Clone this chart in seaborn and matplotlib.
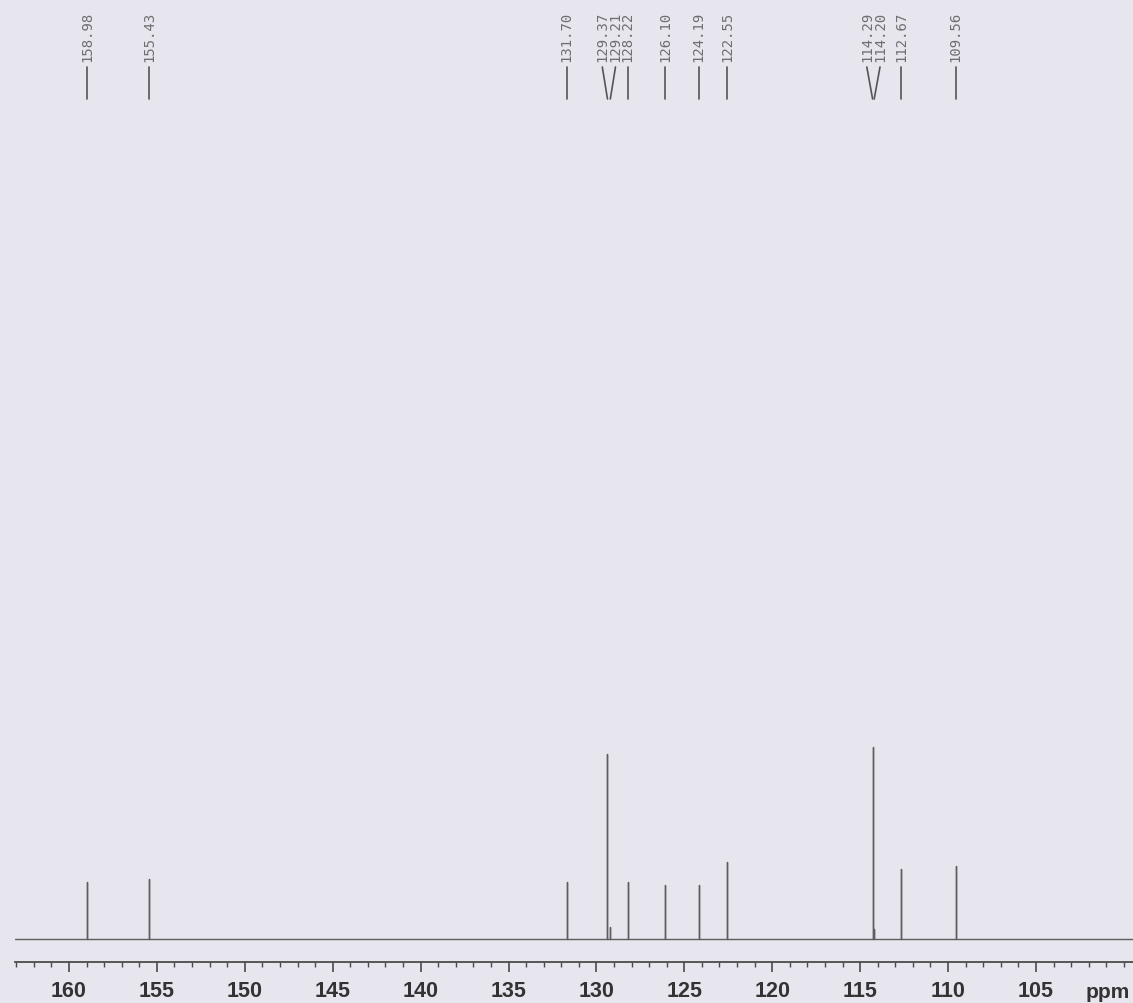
import numpy as np
import pandas as pd
import matplotlib
matplotlib.use("Agg")
import matplotlib.pyplot as plt
import matplotlib.transforms as mtransforms
from matplotlib.ticker import FixedLocator, MultipleLocator
import seaborn as sns

# 13C NMR peaks (ppm) and their heights
peak_ppm = [158.98, 155.43, 131.70, 129.37, 129.21, 128.22, 126.10,
            124.19, 122.55, 114.29, 114.20, 112.67, 109.56]
peak_height = [57, 60, 57, 185, 12, 57, 54, 54, 77, 192, 10, 70, 73]
peak_labels = ["158.98", "155.43", "131.70", "129.37", "129.21", "128.22",
               "126.10", "124.19", "122.55", "114.29", "114.20", "112.67",
               "109.56"]
major_ticks = [160, 155, 150, 145, 140, 135, 130, 125, 120, 115, 110, 105]

X_LEFT, X_RIGHT = 163.07, 99.48
BG = "#e7e5ee"
INK = "#4a4a4a"


def spread_labels(ppm, min_gap=0.75):
    # group close peaks and fan their labels out around the group centre
    groups = [[0]]
    for i in range(1, len(ppm)):
        groups[-1].append(i) if ppm[groups[-1][-1]] - ppm[i] < min_gap else groups.append([i])
    pos = [0.0] * len(ppm)
    for g in groups:
        centre = np.mean([ppm[i] for i in g])
        for k, i in enumerate(g):
            pos[i] = centre + (len(g) - 1) / 2 * min_gap - k * min_gap
    return pos


def build_trace(ppm, height):
    xs, ys = [X_LEFT], [0.0]
    for p, h in sorted(zip(ppm, height), reverse=True):
        xs += [p, p, p]
        ys += [0.0, h, 0.0]
    xs.append(X_RIGHT)
    ys.append(0.0)
    return pd.DataFrame({"ppm": xs, "intensity": ys, "order": range(len(xs))})


sns.set_theme(style="white")
plt.rcParams["font.family"] = ["Liberation Sans", "DejaVu Sans"]

fig = plt.figure(figsize=(11.33, 10.04), dpi=100, facecolor=BG)
ax = fig.add_axes([15 / 1133, 41 / 1004, 1 - 15 / 1133, (963 - 105) / 1004])
ax.set_facecolor(BG)

trace = build_trace(peak_ppm, peak_height)
sns.lineplot(data=trace, x="ppm", y="intensity", sort=False, estimator=None,
             color="#5e5e5e", linewidth=1.0, ax=ax)

ax.set_xlim(X_LEFT, X_RIGHT)
ax.set_ylim(-23, 835)
ax.set_xlabel("")
ax.set_ylabel("")
ax.set_yticks([])
for side in ["left", "right", "top"]:
    ax.spines[side].set_visible(False)
ax.spines["bottom"].set_color(INK)
ax.spines["bottom"].set_linewidth(1.3)

ax.xaxis.set_major_locator(FixedLocator(major_ticks))
ax.xaxis.set_minor_locator(MultipleLocator(1))
ax.set_xticklabels([str(t) for t in major_ticks])
ax.tick_params(axis="x", which="major", direction="out", length=7.5, width=1.2,
               color=INK, labelsize=15.5, labelcolor="#333333", pad=5.5,
               bottom=True)
ax.tick_params(axis="x", which="minor", direction="out", length=3.5, width=1.0,
               color=INK, bottom=True)
for lab in ax.get_xticklabels():
    lab.set_fontweight("bold")
ax.text(1108 / 1133, 11 / 1004, "ppm", transform=fig.transFigure, ha="center",
        va="center", fontsize=15, fontweight="bold", color="#333333")

# peak pick labels with connector lines above the plot
trans = mtransforms.blended_transform_factory(ax.transData, fig.transFigure)
label_pos = spread_labels(peak_ppm)
y_top = 1 - 68 / 1004
y_bot = 1 - 100 / 1004
for p, lp, txt in zip(peak_ppm, label_pos, peak_labels):
    ax.plot([lp, p], [y_top, y_bot], transform=trans, color="#555555",
            linewidth=1.2, clip_on=False)
    ax.text(lp, 1 - 62 / 1004, txt, transform=trans, rotation=90, ha="center",
            va="bottom", fontsize=10, color="#6e6e6e",
            family=["DejaVu Sans Mono"])

fig.savefig("out.png", dpi=100, facecolor=BG)
